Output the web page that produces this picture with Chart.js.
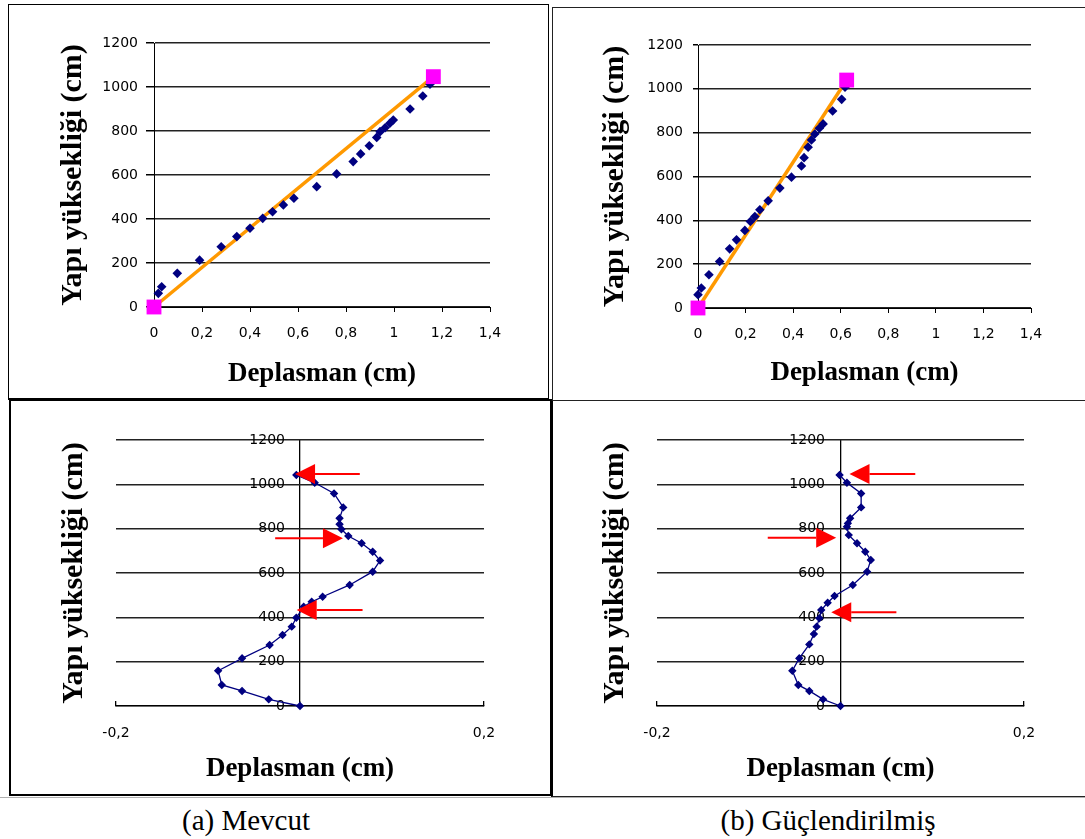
<!DOCTYPE html>
<html>
<head>
<meta charset="utf-8">
<script src="https://cdn.jsdelivr.net/npm/chart.js@4.4.1/dist/chart.umd.min.js"></script>
<style>
  html, body { margin: 0; padding: 0; background: #fff; }
  #wrap { position: relative; width: 1085px; height: 839px; background: #fff; overflow: hidden; }
  .box { position: absolute; box-sizing: border-box; }
  canvas { position: absolute; }
  .cap { position: absolute; font-family: "Liberation Serif", "Times New Roman", serif; font-size: 29px; color: #000; white-space: nowrap; transform: translate(-50%, -50%); }
</style>
</head>
<body>
<div id="wrap">
  <div class="box" style="left:8px;top:4px;width:541px;height:396px;border:1px solid #000;border-bottom-width:2px;"></div>
  <div class="box" style="left:552px;top:7px;width:540px;height:394px;border:1px solid #222;border-right:none;"></div>
  <div class="box" style="left:9px;top:399px;width:543px;height:397px;border:2px solid #000;"></div>
  <div class="box" style="left:551px;top:400px;width:540px;height:397px;border:1px solid #222;border-left:2px solid #000;border-right:none;"></div>
  <div class="box" style="left:0;top:797px;width:1085px;height:1px;background:#b0b0b0;"></div>
  <div class="cap" style="left:246px;top:820px;">(a) Mevcut</div>
  <div class="cap" style="left:828px;top:820px;">(b) Güçlendirilmiş</div>
</div>
<script>
// ---------------- DATA ----------------
// (a) Mevcut - top: displacement profile points
const aDispX = [0.018, 0.032, 0.097, 0.19, 0.28, 0.345, 0.4, 0.453, 0.494, 0.539, 0.583, 0.678, 0.761, 0.83, 0.861, 0.897, 0.928, 0.942, 0.963, 0.983, 0.997, 1.067, 1.12, 1.15];
const aDispY = [62, 92, 153, 213, 274, 320, 358, 403, 433, 464, 494, 547, 605, 661, 696, 733, 771, 797, 815, 835, 850, 900, 959, 1013];
const aEndX = [0, 1.164];
const aEndY = [0, 1047];
// (b) Güçlendirilmiş - top
const bDispX = [0, 0.014, 0.046, 0.091, 0.133, 0.162, 0.197, 0.22, 0.239, 0.26, 0.295, 0.344, 0.393, 0.435, 0.446, 0.463, 0.477, 0.491, 0.51, 0.526, 0.566, 0.604, 0.618];
const bDispY = [61, 91, 152, 212, 270, 311, 354, 395, 417, 448, 489, 547, 597, 648, 686, 734, 767, 794, 820, 840, 899, 952, 1007];
const bEndX = [0, 0.625];
const bEndY = [0, 1040];
// (a) Mevcut - bottom: deviation from the straight line
const cDevX = [0, -0.034, -0.063, -0.085, -0.089, -0.063, -0.033, -0.019, -0.009, -0.004, 0.004, 0.0127, 0.0246, 0.054, 0.079, 0.087, 0.079, 0.067, 0.0525, 0.045, 0.043, 0.043, 0.047, 0.037, 0.016, -0.004];
const cDevY = [0, 30, 68, 95, 159, 215, 275, 320, 358, 398, 448, 470, 493, 546, 606, 656, 696, 734, 767, 797, 820, 847, 896, 959, 1007, 1042];
// (b) Güçlendirilmiş - bottom
const dDevX = [0, -0.019, -0.034, -0.046, -0.0525, -0.045, -0.034, -0.029, -0.026, -0.023, -0.021, -0.014, -0.0065, 0.0134, 0.029, 0.033, 0.027, 0.018, 0.009, 0.007, 0.008, 0.0105, 0.0225, 0.0225, 0.007, -0.001];
const dDevY = [0, 30, 68, 95, 159, 215, 278, 325, 358, 396, 433, 466, 496, 546, 606, 659, 696, 734, 771, 809, 824, 847, 896, 959, 1007, 1042];
// red arrows (tail x, tip x, height)
const cArrowTail = [0.065, -0.027, 0.068];
const cArrowTip  = [-0.0054, 0.0467, -0.0036];
const cArrowY    = [1047, 757, 433];
const dArrowTail = [0.0815, -0.0793, 0.0609];
const dArrowTip  = [0.0098, -0.0047, -0.0101];
const dArrowY    = [1047, 759, 423];
// axis ticks
const topXTicks = [0, 0.2, 0.4, 0.6, 0.8, 1, 1.2, 1.4];
const botXTicks = [-0.2, 0, 0.2];
const yTicks = [0, 200, 400, 600, 800, 1000, 1200];
const xTitle = 'Deplasman (cm)';
const yTitle = 'Yapı yüksekliği (cm)';

// ---------------- HELPERS ----------------
const zip = (xs, ys) => xs.map((x, i) => ({x, y: ys[i]}));
const fmt = v => (Math.round(v * 10) / 10).toString().replace('.', ',');
const NAVY = '#000080';
const TICK_FONT = {family: 'DejaVu Sans', size: 14};
const TITLE_FONT = {family: 'Liberation Serif', size: 27, weight: 'bold'};
const YTITLE_FONT = {family: 'Liberation Serif', size: 30, weight: 'bold'};

Chart.defaults.color = '#000';
Chart.defaults.font = {family: 'DejaVu Sans', size: 14};

function textWidth(str, font) {
  const cx = document.createElement('canvas').getContext('2d');
  cx.font = font.size + 'px "' + font.family + '"';
  return cx.measureText(str).width;
}
const widestY = Math.max(...yTicks.map(v => textWidth(String(v), TICK_FONT)));

const arrowPlugin = {
  id: 'arrows',
  afterDatasetsDraw(chart, args, opts) {
    if (!opts || !opts.tails) return;
    const {ctx} = chart; const sx = chart.scales.x, sy = chart.scales.y;
    ctx.save();
    ctx.strokeStyle = '#ff0000'; ctx.fillStyle = '#ff0000'; ctx.lineWidth = 2;
    opts.tails.forEach((t, i) => {
      const p0 = sx.getPixelForValue(t), p1 = sx.getPixelForValue(opts.tips[i]), py = sy.getPixelForValue(opts.ys[i]);
      const dir = Math.sign(p1 - p0), L = 20, H = 10, base = p1 - dir * L;
      ctx.beginPath(); ctx.moveTo(p0, py); ctx.lineTo(base, py); ctx.stroke();
      ctx.beginPath(); ctx.moveTo(p1, py); ctx.lineTo(base, py - H); ctx.lineTo(base, py + H); ctx.closePath(); ctx.fill();
    });
    ctx.restore();
  }
};

function makeCanvas(rect) {
  const c = document.createElement('canvas');
  const w = rect.r - rect.l, h = rect.b - rect.t;
  c.width = w; c.height = h;
  c.style.left = rect.l + 'px'; c.style.top = rect.t + 'px';
  c.style.width = w + 'px'; c.style.height = h + 'px';
  document.getElementById('wrap').appendChild(c);
  return c;
}

function topChart(g, dx, dy, ex, ey) {
  const c = makeCanvas(g.rect);
  const yW = g.area.l - g.rect.l, xH = g.rect.b - g.area.b;
  new Chart(c, {
    type: 'scatter',
    data: { datasets: [
      { data: zip(ex, ey), pointStyle: 'rect', pointRadius: 10.5, backgroundColor: '#ff00ff', borderColor: '#ff00ff', borderWidth: 0, showLine: false, clip: false },
      { data: zip(dx, dy), pointStyle: 'rectRot', pointRadius: 4.8, backgroundColor: NAVY, borderColor: NAVY, borderWidth: 0, showLine: false, clip: false },
      { data: zip(ex, ey), showLine: true, pointRadius: 0, borderColor: '#ff9900', borderWidth: 3.5, clip: false }
    ]},
    options: {
      responsive: false, animation: false,
      layout: { padding: { top: g.area.t - g.rect.t, right: g.rect.r - g.area.r, left: 0, bottom: 0 } },
      plugins: { legend: { display: false }, tooltip: { enabled: false } },
      scales: {
        x: {
          type: 'linear', min: topXTicks[0], max: topXTicks[topXTicks.length - 1],
          afterBuildTicks: s => { s.ticks = topXTicks.map(v => ({value: v})); },
          afterFit: s => { s.height = xH; },
          grid: { drawOnChartArea: false, drawTicks: true, tickLength: 5, tickColor: '#000', color: '#000' },
          border: { display: true, color: '#000', width: 1 },
          ticks: { font: TICK_FONT, color: '#000', padding: g.xPad, callback: v => fmt(v), maxRotation: 0, autoSkip: false },
          title: { display: true, text: xTitle, font: TITLE_FONT, color: '#000', padding: { top: 0, bottom: g.xTitlePad } }
        },
        y: {
          type: 'linear', min: yTicks[0], max: yTicks[yTicks.length - 1],
          afterBuildTicks: s => { s.ticks = yTicks.map(v => ({value: v})); },
          afterFit: s => { s.width = yW; },
          grid: { drawOnChartArea: true, drawTicks: true, tickLength: g.yTick, color: '#222', lineWidth: 1.5, tickColor: '#000' },
          border: { display: true, color: '#000', width: 1 },
          ticks: { font: TICK_FONT, color: '#000', padding: g.yPad, callback: v => String(v) },
          title: { display: true, text: yTitle, font: YTITLE_FONT, color: '#000', padding: { top: g.yTitlePad, bottom: 0 } }
        }
      }
    }
  });
}

function bottomChart(g, dx, dy, tails, tips, ays) {
  const c = makeCanvas(g.rect);
  const yW = g.area.l - g.rect.l, xH = g.rect.b - g.area.b;
  new Chart(c, {
    type: 'scatter',
    data: { datasets: [
      { data: zip(dx, dy), showLine: true, pointStyle: 'rectRot', pointRadius: 3.3, backgroundColor: NAVY, borderColor: NAVY, borderWidth: 1.3, clip: false }
    ]},
    plugins: [arrowPlugin],
    options: {
      responsive: false, animation: false,
      layout: { padding: { top: g.area.t - g.rect.t, right: g.rect.r - g.area.r, left: 0, bottom: 0 } },
      plugins: { legend: { display: false }, tooltip: { enabled: false }, arrows: { tails, tips, ys: ays } },
      scales: {
        x: {
          type: 'linear', min: botXTicks[0], max: botXTicks[botXTicks.length - 1],
          afterBuildTicks: s => { s.ticks = botXTicks.map(v => ({value: v})); },
          afterFit: s => { s.height = xH; },
          grid: { drawOnChartArea: true, drawTicks: true, tickLength: -5, tickColor: '#000',
                  color: ctx => (ctx.tick && ctx.tick.value === 0) ? '#000' : 'rgba(0,0,0,0)', lineWidth: 1.3 },
          border: { display: true, color: '#000', width: 1.3 },
          ticks: { font: TICK_FONT, color: '#000', padding: g.xPad, callback: v => (v === 0 ? '' : fmt(v)), maxRotation: 0, autoSkip: false },
          title: { display: true, text: xTitle, font: TITLE_FONT, color: '#000', padding: { top: 0, bottom: g.xTitlePad } }
        },
        y: {
          type: 'linear', min: yTicks[0], max: yTicks[yTicks.length - 1],
          afterBuildTicks: s => { s.ticks = yTicks.map(v => ({value: v})); },
          afterFit: s => { s.width = yW; s.paddingTop = 8; s.paddingBottom = 8; },
          grid: { drawOnChartArea: true, drawTicks: false, color: '#222', lineWidth: 1.5 },
          border: { display: false },
          ticks: { font: TICK_FONT, color: '#000', mirror: true, crossAlign: 'far',
                   padding: g.labelRight - g.area.l - widestY, callback: v => String(v) },
          title: { display: true, text: yTitle, font: YTITLE_FONT, color: '#000', padding: { top: g.yTitlePad, bottom: 0 } }
        }
      }
    }
  });
}

topChart({ rect: {l: 9, t: 5, r: 548, b: 398}, area: {l: 154, t: 43, r: 490, b: 307},
           yTick: 8, yPad: 8, xPad: 13, xTitlePad: 8, yTitlePad: 46 }, aDispX, aDispY, aEndX, aEndY);
topChart({ rect: {l: 553, t: 8, r: 1085, b: 399}, area: {l: 698, t: 45, r: 1031, b: 308},
           yTick: 5, yPad: 10, xPad: 13, xTitlePad: 10, yTitlePad: 44 }, bDispX, bDispY, bEndX, bEndY);
bottomChart({ rect: {l: 11, t: 401, r: 549, b: 793}, area: {l: 116, t: 440, r: 484, b: 706},
              labelRight: 285, xPad: 24, xTitlePad: 8, yTitlePad: 45 }, cDevX, cDevY, cArrowTail, cArrowTip, cArrowY);
bottomChart({ rect: {l: 553, t: 402, r: 1085, b: 794}, area: {l: 657, t: 440, r: 1024, b: 706},
              labelRight: 825, xPad: 24, xTitlePad: 9, yTitlePad: 44 }, dDevX, dDevY, dArrowTail, dArrowTip, dArrowY);
</script>
</body>
</html>
